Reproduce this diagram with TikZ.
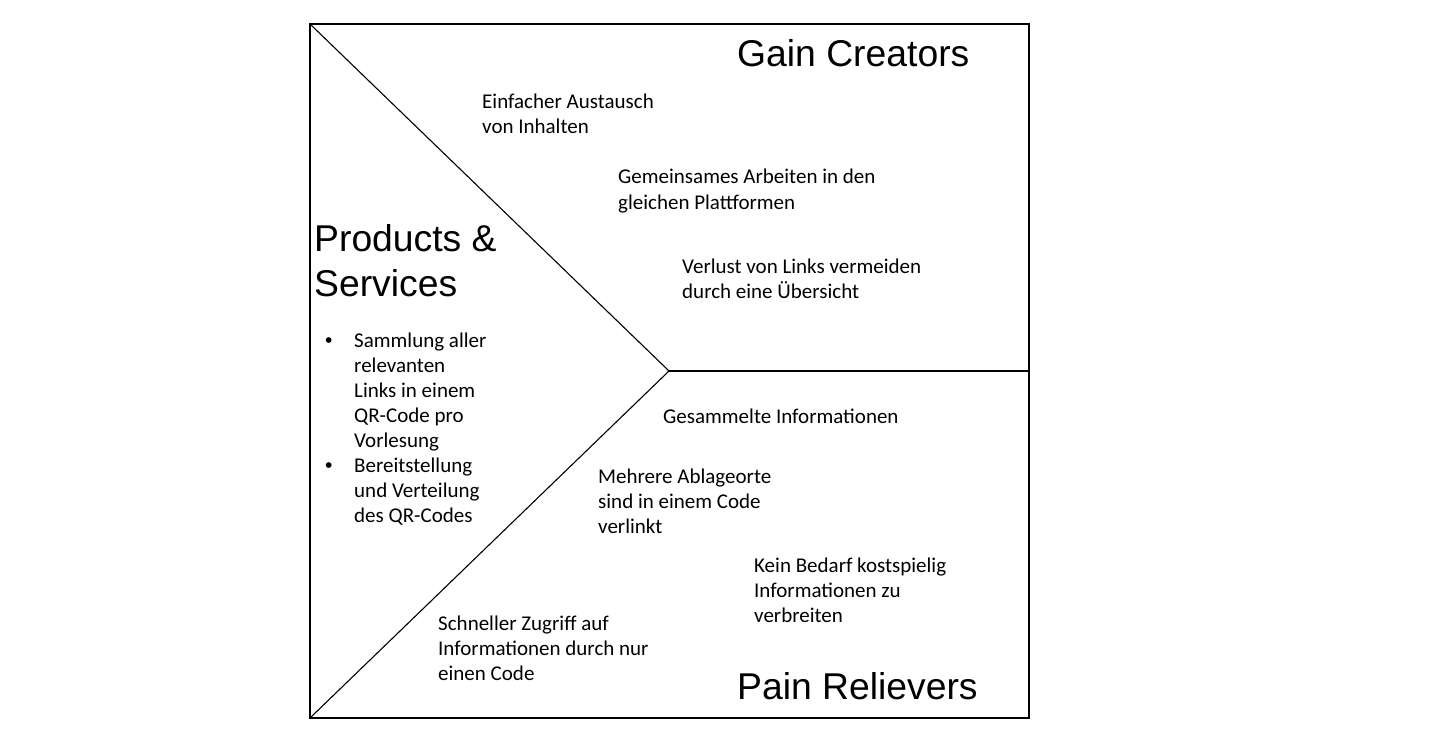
\documentclass[tikz,border=0pt]{standalone}
\usepackage{fontspec}
\setmainfont{Carlito}
\newfontfamily\titlefont{Liberation Sans}
\newcommand{\smallbullet}{{\titlefont\fontsize{21}{25}\selectfont\textbullet}}
\begin{document}
\begin{tikzpicture}[x=1pt,y=-1pt,
  frame/.style={draw=black,line width=1.1pt},
  body/.style={font=\fontsize{21}{25}\selectfont,inner sep=0pt,align=left,anchor=base west},
  title/.style={font=\titlefont\fontsize{37.3}{45}\selectfont,inner sep=0pt,align=left,anchor=base west}]
\useasboundingbox (0,0) rectangle (1441,733);
% frame
\coordinate (tl) at (310,24);
\coordinate (bl) at (310,718);
\coordinate (tr) at (1029,24);
\coordinate (br) at (1029,718);
\coordinate (apex) at (669,371);
\coordinate (rm) at (1029,371);
\draw[frame] (tl) rectangle (br);
\draw[frame] (tl) -- (apex) -- (bl);
\draw[frame] (apex) -- (rm);
% titles (anchor = baseline of last line)
\node[title] (gain) at (737,67) {Gain Creators};
\node[title] (prod) at (314,296) {Products \&\\Services};
\node[title] (pain) at (737,699) {Pain Relievers};
% gain creators
\node[body] (g1) at (482,134) {Einfacher Austausch\\von Inhalten};
\node[body] (g2) at (618,209) {Gemeinsames Arbeiten in den\\gleichen Plattformen};
\node[body] (g3) at (682,298) {Verlust von Links vermeiden\\durch eine Übersicht};
% products & services
\node[body] (ps) at (325,522) {%
\hbox to 29pt{\smallbullet\hfil}Sammlung aller\\
\hbox to 29pt{\hfil}relevanten\\
\hbox to 29pt{\hfil}Links in einem\\
\hbox to 29pt{\hfil}QR-Code pro\\
\hbox to 29pt{\hfil}Vorlesung\\
\hbox to 29pt{\smallbullet\hfil}Bereitstellung\\
\hbox to 29pt{\hfil}und Verteilung\\
\hbox to 29pt{\hfil}des QR-Codes};
% pain relievers
\node[body] (p1) at (663,423) {Gesammelte Informationen};
\node[body] (p2) at (598,533) {Mehrere Ablageorte\\sind in einem Code\\verlinkt};
\node[body] (p3) at (754,622) {Kein Bedarf kostspielig\\Informationen zu\\verbreiten};
\node[body] (p4) at (438,680) {Schneller Zugriff auf\\Informationen durch nur\\einen Code};
\end{tikzpicture}
\end{document}
